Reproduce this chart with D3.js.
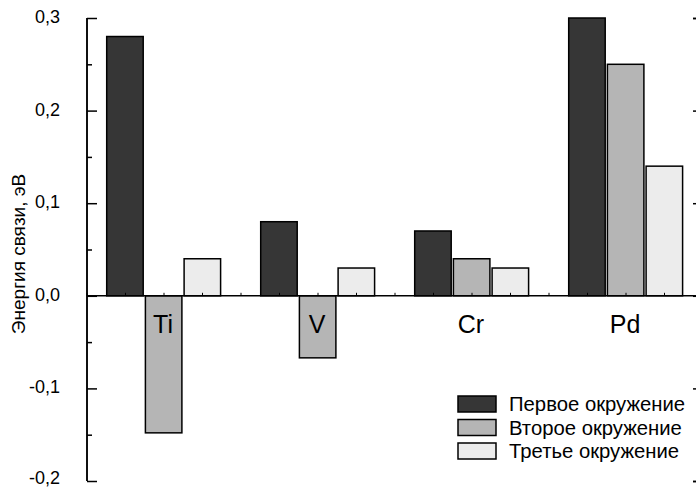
<!DOCTYPE html>
<html><head><meta charset="utf-8">
<script src="https://cdn.jsdelivr.net/npm/d3@7"></script>
<style>body{margin:0;background:#fff}svg{display:block}</style>
</head><body>
<script>
const categories = ["Ti", "V", "Cr", "Pd"];
const seriesNames = ["Первое окружение", "Второе окружение", "Третье окружение"];
const first  = [0.28, 0.08, 0.07, 0.30];
const second = [-0.148, -0.067, 0.04, 0.25];
const third  = [0.04, 0.03, 0.03, 0.14];
const yTicks = [-0.2, -0.1, 0.0, 0.1, 0.2, 0.3];
const yMinor = [-0.15, -0.05, 0.05, 0.15, 0.25];
const colors = ["#363636", "#b5b5b5", "#ececec"];
const series = [first, second, third];

const FONT = "'Liberation Sans', Arial, sans-serif";
const W = 696, H = 488;
const svg = d3.select("body").append("svg").attr("width", W).attr("height", H);
const x0 = 87, x1 = 703;
const y = d3.scaleLinear().domain([-0.2, 0.3]).range([481, 18]);
const x = d3.scaleBand().domain(categories).range([x0, x1]);
const xs = d3.scaleBand().domain([0,1,2]).range([19.7, 133.6]).paddingInner(0.057).paddingOuter(0);

// bars
series.forEach((vals, si) => {
  svg.append("g").selectAll("rect").data(vals).join("rect")
    .attr("x", (d, i) => x(categories[i]) + xs(si))
    .attr("width", xs.bandwidth())
    .attr("y", d => y(Math.max(0, d)))
    .attr("height", d => Math.abs(y(d) - y(0)))
    .attr("fill", colors[si])
    .attr("stroke", "#000").attr("stroke-width", 1.5);
});

// left axis
const left = svg.append("g").attr("transform", `translate(${x0},0)`);
left.call(d3.axisRight(y).tickValues(yTicks).tickSize(10).tickFormat(""));
left.append("g").call(d3.axisRight(y).tickValues(yMinor).tickSize(5).tickFormat(""));
left.selectAll("path,line").attr("stroke", "#000").attr("stroke-width", 1.5);
left.selectAll(".domain").attr("d", `M0,${y(0.3)}V${y(-0.2)}`);
svg.append("g").selectAll("text").data(yTicks).join("text")
  .attr("x", 60).attr("y", d => Math.min(y(d) + 5, 484))
  .attr("text-anchor", "end")
  .attr("font-family", FONT).attr("font-size", 18)
  .text(d => d3.format(".1f")(d).replace(".", ",").replace("−", "-"));

// right axis
const right = svg.append("g").attr("transform", `translate(${x1},0)`);
right.call(d3.axisLeft(y).tickValues(yTicks).tickSize(10).tickFormat(""));
right.append("g").call(d3.axisLeft(y).tickValues(yMinor).tickSize(5).tickFormat(""));
right.selectAll("path,line").attr("stroke", "#000").attr("stroke-width", 1.5);

// zero line with minor ticks
const xTickPos = d3.range(0, 17).map(i => x0 + i * x.bandwidth() / 4);
const zero = svg.append("g");
zero.append("line").attr("x1", x0).attr("x2", x1).attr("y1", y(0)).attr("y2", y(0))
  .attr("stroke", "#000").attr("stroke-width", 1.5);
zero.selectAll("line.t").data(xTickPos).join("line").attr("class", "t")
  .attr("x1", d => d).attr("x2", d => d).attr("y1", y(0)).attr("y2", y(0) - 3)
  .attr("stroke", "#000").attr("stroke-width", 1);

// category labels
svg.append("g").selectAll("text").data(categories).join("text")
  .attr("x", d => x(d) + x.bandwidth() / 2 - 1)
  .attr("y", 333)
  .attr("text-anchor", "middle")
  .attr("font-family", FONT).attr("font-size", 25)
  .text(d => d);

// y title
svg.append("text")
  .attr("transform", `translate(25,254) rotate(-90)`)
  .attr("text-anchor", "middle")
  .attr("font-family", FONT).attr("font-size", 19)
  .text("Энергия связи, эВ");

// legend
const lg = svg.append("g").attr("transform", "translate(458,396)");
seriesNames.forEach((n, i) => {
  lg.append("rect").attr("x", 0).attr("y", i * 23.5).attr("width", 38).attr("height", 16)
    .attr("fill", colors[i]).attr("stroke", "#000").attr("stroke-width", 1.5);
  lg.append("text").attr("x", 51).attr("y", i * 23.5 + 15)
    .attr("font-family", FONT).attr("font-size", 20.3)
    .text(n);
});
</script>
</body></html>
